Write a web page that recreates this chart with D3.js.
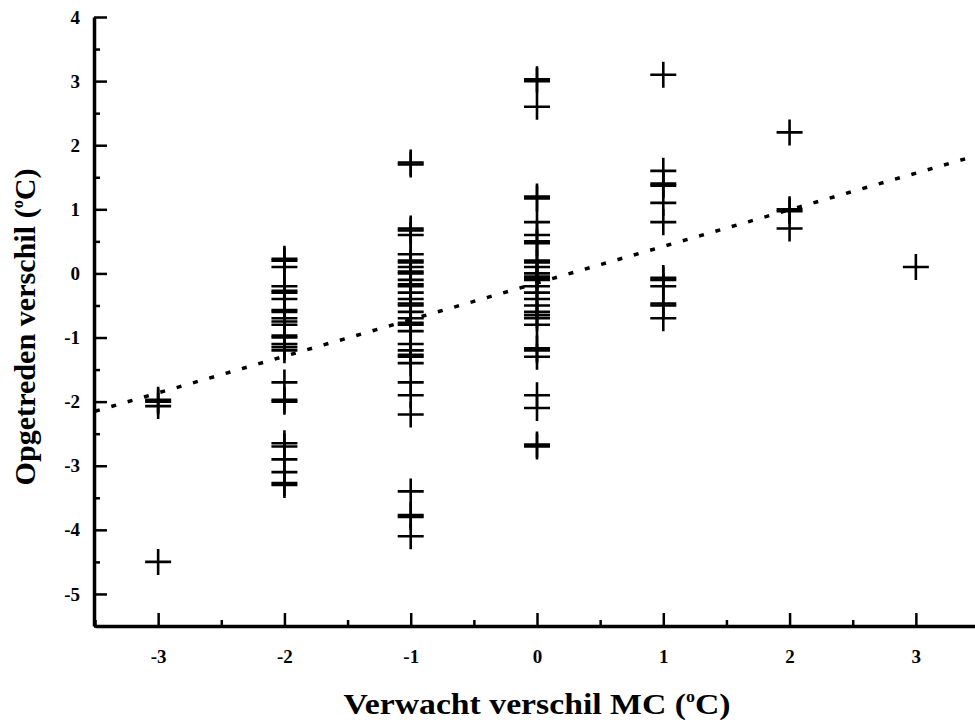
<!DOCTYPE html>
<html>
<head>
<meta charset="utf-8">
<script src="https://cdn.jsdelivr.net/npm/d3@7"></script>
<style>
  body { margin: 0; background: #fff; }
  svg { display: block; }
  text { font-family: "Liberation Serif", "Times New Roman", serif; font-weight: bold; fill: #000; }
</style>
</head>
<body>
<script>
// verwacht verschil (MC) per kolom
const expected = [-3, -2, -1, 0, 1, 2, 3];

const observed = [
  [-2.0, -1.97, -2.07, -4.5],
  [0.2, 0.23, 0.1, -0.2, -0.3, -0.27, -0.4, -0.6, -0.57, -0.7, -0.75, -0.8, -1.0, -0.97, -1.1, -1.15, -1.2,
   -1.7, -2.0, -1.97, -2.7, -2.65, -2.9, -3.1, -3.3, -3.27],
  [1.7, 1.73, 0.7, 0.67, 0.6, 0.3, 0.2, 0.17, 0.1, 0.0, 0.03, -0.1, -0.2, -0.17, -0.3, -0.4, -0.5, -0.47,
   -0.6, -0.7, -0.8, -0.77, -0.9, -1.1, -1.2, -1.3, -1.27, -1.4, -1.7, -1.9, -2.2, -3.4, -3.8, -3.77, -4.1],
  [3.0, 3.03, 2.6, 1.2, 1.17, 0.8, 0.6, 0.5, 0.47, 0.2, 0.17, 0.1, 0.0, -0.05, -0.08, -0.1, -0.2, -0.3,
   -0.4, -0.5, -0.6, -0.65, -0.7, -0.8, -1.2, -1.17, -1.3, -1.9, -2.1, -2.7, -2.67],
  [3.1, 1.6, 1.4, 1.37, 1.1, 0.8, -0.1, -0.07, -0.2, -0.5, -0.47, -0.7],
  [2.2, 1.0, 0.97, 0.7],
  [0.1]
];

const fitX = [-3.5, 3.5];
const fitY = [-2.15, 1.85];

const xTicks = [-3, -2, -1, 0, 1, 2, 3];
const yTicks = [-5, -4, -3, -2, -1, 0, 1, 2, 3, 4];

const w = 975;
const h = 727;

const points = [];
for (let i = 0; i < expected.length; i++) {
  observed[i].forEach((v) => points.push({ x: expected[i], y: v }));
}

const x = d3.scaleLinear().domain([-3.5, 3.5]).range([95, 979]);
const y = d3.scaleLinear().domain([-5.5, 4]).range([626, 17]);

const svg = d3.select("body")
  .append("svg")
  .attr("width", w)
  .attr("height", h);

// kleine streepjes op halve waarden
const xMinor = d3.range(-3.5, 3.51, 1);
const yMinor = d3.range(-5.5, 4, 1);

svg.append("g")
  .attr("transform", "translate(0,626)")
  .call(d3.axisBottom(x).tickValues(xMinor).tickSize(-6).tickFormat(""))
  .call((g) => g.select(".domain").remove())
  .selectAll("line").attr("stroke-width", 2.5);

svg.append("g")
  .attr("transform", "translate(94,0)")
  .call(d3.axisLeft(y).tickValues(yMinor).tickSize(-6).tickFormat(""))
  .call((g) => g.select(".domain").remove())
  .selectAll("line").attr("stroke-width", 2.5);

const xAxis = svg.append("g")
  .attr("transform", "translate(0,626)")
  .call(d3.axisBottom(x).tickValues(xTicks).tickSize(-13).tickSizeOuter(0).tickPadding(24)
    .tickFormat((d) => String(d)));
xAxis.select(".domain").attr("stroke-width", 3.5);
xAxis.selectAll(".tick line").attr("stroke-width", 2.5);
xAxis.selectAll("text").attr("font-size", "19px");

const yAxis = svg.append("g")
  .attr("transform", "translate(94,0)")
  .call(d3.axisLeft(y).tickValues(yTicks).tickSize(-13).tickSizeOuter(0).tickPadding(14)
    .tickFormat((d) => String(d)));
yAxis.select(".domain").attr("stroke-width", 3.5);
yAxis.selectAll(".tick line").attr("stroke-width", 2.5);
yAxis.selectAll("text").attr("font-size", "19px");

// regressielijn, gestippeld
const line = d3.line()
  .x((d) => x(d[0]))
  .y((d) => y(d[1]));

svg.append("path")
  .datum(fitX.map((v, i) => [v, fitY[i]]))
  .attr("d", line)
  .attr("fill", "none")
  .attr("stroke", "#000")
  .attr("stroke-width", 3.5)
  .attr("stroke-dasharray", "5,12");

// plusjes
const arm = 13;
svg.append("g")
  .selectAll("path")
  .data(points)
  .enter()
  .append("path")
  .attr("d", (d) => {
    const px = x(d.x), py = y(d.y);
    return "M" + (px - arm) + "," + py + "H" + (px + arm) + "M" + px + "," + (py - arm) + "V" + (py + arm);
  })
  .attr("stroke", "#000")
  .attr("stroke-width", 2.6)
  .attr("fill", "none");

// titels
const xt = svg.append("text")
  .attr("x", 537)
  .attr("y", 714)
  .attr("text-anchor", "middle")
  .attr("font-size", "30px")
  .attr("textLength", 387)
  .attr("lengthAdjust", "spacingAndGlyphs");
xt.append("tspan").text("Verwacht verschil MC (");
xt.append("tspan").attr("font-size", "16px").attr("dy", -12).text("o");
xt.append("tspan").attr("dy", 12).text("C)");

const yt = svg.append("text")
  .attr("transform", "translate(35,327) rotate(-90)")
  .attr("text-anchor", "middle")
  .attr("font-size", "30px")
  .attr("textLength", 317)
  .attr("lengthAdjust", "spacingAndGlyphs");
yt.append("tspan").text("Opgetreden verschil (");
yt.append("tspan").attr("font-size", "16px").attr("dy", -12).text("o");
yt.append("tspan").attr("dy", 12).text("C)");
</script>
</body>
</html>
